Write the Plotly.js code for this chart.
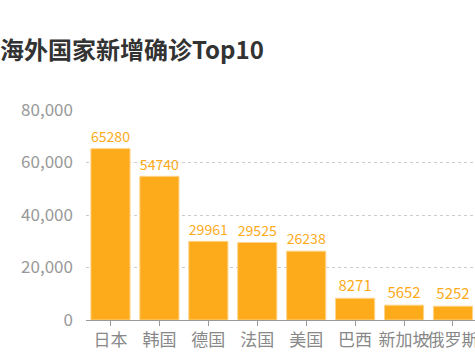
<!DOCTYPE html>
<html><head><meta charset="utf-8">
<script src="https://cdn.plot.ly/plotly-3.0.1.min.js"></script>
<style>html,body{margin:0;padding:0;overflow:hidden;background:#fff}#chart{width:475px;height:356px}</style>
</head><body><div id="chart"></div>
<script>
const categories = ['日本','韩国','德国','法国','美国','巴西','新加坡','俄罗斯'];
const values = [65280, 54740, 29961, 29525, 26238, 8271, 5652, 5252];
const yTicks = [0, 20000, 40000, 60000, 80000];
const titleText = '海外国家新增确诊Top10';

const font = '"Noto Sans CJK SC", "Noto Sans", sans-serif';
const trace = {
  type: 'bar', x: categories, y: values,
  text: values.map(String), textposition: 'outside', cliponaxis: false,
  textfont: {color: '#FDAB1B', size: 15, family: font},
  marker: {color: '#FDAB1B', line: {color: '#FED48A', width: 1}},
  hoverinfo: 'none'
};
const layout = {
  width: 475, height: 356,
  margin: {l: 86, r: 0, t: 110, b: 36},
  paper_bgcolor: '#fff', plot_bgcolor: '#fff',
  font: {family: font},
  title: {text: '<b>' + titleText + '</b>', x: 0, xref: 'container', xanchor: 'left',
          y: 1 - 51/356, yref: 'container', yanchor: 'middle',
          font: {size: 24, color: '#333', family: font}},
  bargap: 0.2,
  showlegend: false,
  xaxis: {type: 'category', range: [-0.5, 7.45], showline: true, linecolor: '#999', linewidth: 1,
          ticks: 'outside', ticklen: 5, tickcolor: '#999', showgrid: false, tickangle: 0,
          tickfont: {size: 17, color: '#888', family: font}, fixedrange: true},
  yaxis: {range: [0, 80000], tickvals: yTicks, tickformat: ',d', showgrid: true,
          gridcolor: '#ccc', griddash: 'dot', zeroline: false, showline: false,
          ticks: '', ticklabelstandoff: 12,
          tickfont: {size: 17, color: '#999', family: font}, fixedrange: true}
};
Plotly.newPlot('chart', [trace], layout, {displayModeBar: false, staticPlot: true});
</script></body></html>
